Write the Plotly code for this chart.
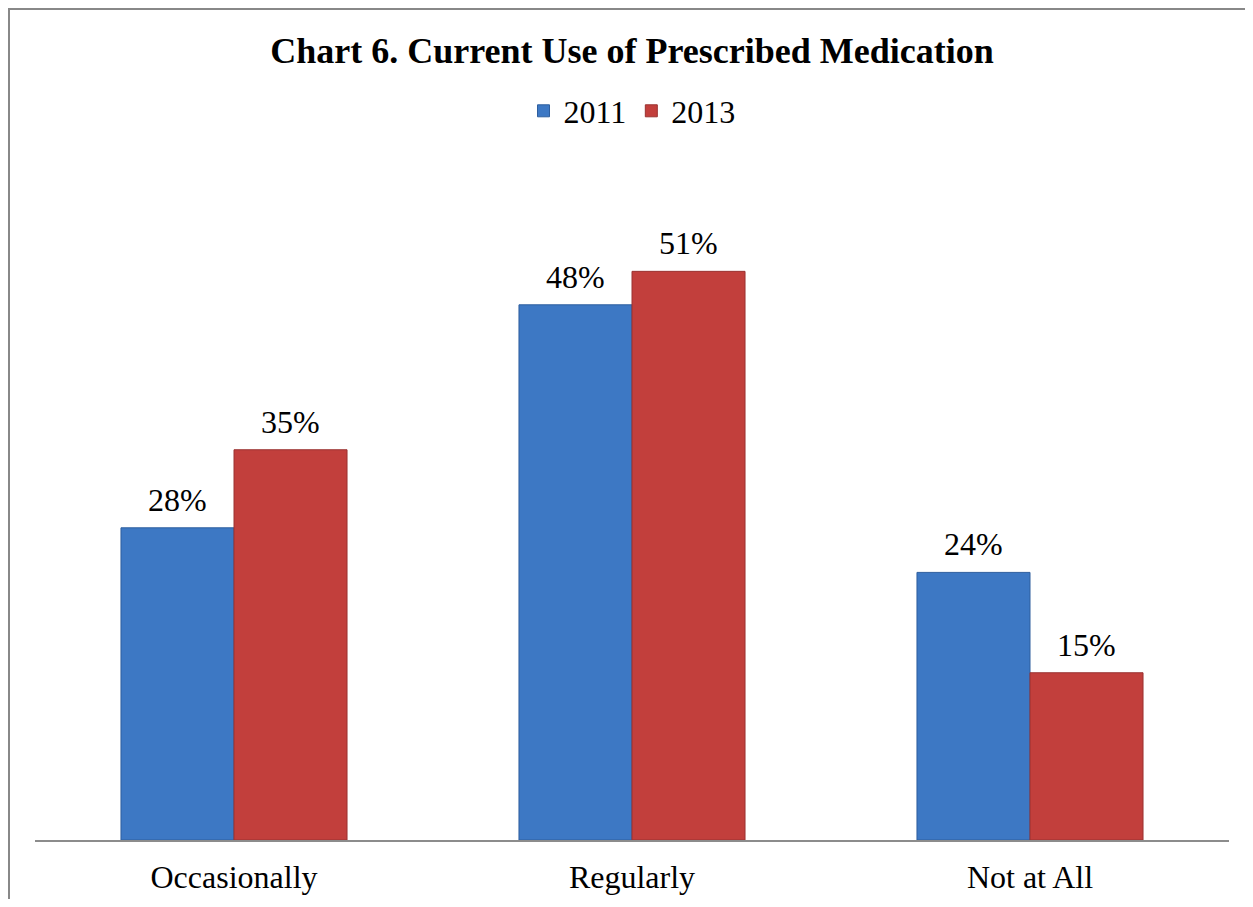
import plotly.graph_objects as go

categories = ["Occasionally", "Regularly", "Not at All"]
series_names = ["2011", "2013"]
values_2011 = [28, 48, 24]
values_2013 = [35, 51, 15]
colors = ["#3D78C4", "#C23F3C"]
line_colors = ["#2E5E9E", "#9A3230"]

# page has an 8px body margin, so the figure is drawn 8px in from top-left
OFF = 8
W, H = 1253 - 2 * OFF, 907 - 2 * OFF
ml, mr = 35 - OFF, W - (1229 - OFF)
axis_y = 840 - OFF
mb = H - axis_y
plot_h = 660
mt = axis_y - plot_h
plot_w = W - ml - mr
px_per_unit = 11.15
y_max = plot_h / px_per_unit
bargap = 0.432
n_series = len(series_names)
bar_px = plot_w / len(categories) * (1 - bargap) / n_series

FONT = "Liberation Serif"

fig = go.Figure()
all_vals = [values_2011, values_2013]
for i, (name, vals, c, lc) in enumerate(zip(series_names, all_vals, colors, line_colors)):
    fig.add_trace(go.Bar(
        x=categories, y=vals, name=name,
        marker=dict(color=c, line=dict(color=lc, width=1)),
    ))
    shift = (i - (n_series - 1) / 2) * bar_px
    for cat, v in zip(categories, vals):
        fig.add_annotation(x=cat, y=v, xref="x", yref="y", text=f"{v}%",
                           showarrow=False, xanchor="center", yanchor="bottom",
                           xshift=shift, yshift=8,
                           font=dict(family=FONT, size=32, color="#000000"))

def px_to_paper_x(px):
    return (px - OFF - ml) / plot_w

def px_to_paper_y(py):
    return (axis_y - (py - OFF)) / plot_h

# outer frame (grey border, partly cropped)
fig.add_shape(type="rect", xref="paper", yref="paper",
              x0=px_to_paper_x(8.5), x1=px_to_paper_x(1290),
              y0=px_to_paper_y(960), y1=px_to_paper_y(8.5),
              line=dict(color="#888888", width=3), fillcolor="rgba(0,0,0,0)", layer="below")

fig.update_layout(
    width=W, height=H,
    margin=dict(l=ml, r=mr, t=mt, b=mb, autoexpand=False),
    paper_bgcolor="white", plot_bgcolor="white",
    barmode="group", bargap=bargap, bargroupgap=0,
    title=dict(text="<b>Chart 6. Current Use of Prescribed Medication</b>",
               x=0.5, xanchor="center", xref="paper",
               y=1 - (50 - OFF) / H, yanchor="middle",
               font=dict(family=FONT, size=36, color="#000000")),
    legend=dict(orientation="h", x=0.5, xanchor="center",
                y=px_to_paper_y(111), yanchor="middle",
                font=dict(family=FONT, size=32, color="#000000"),
                itemwidth=30, tracegroupgap=0),
    showlegend=True,
    font=dict(family=FONT, color="#000000"),
    xaxis=dict(showline=True, linecolor="#8C8C8C", linewidth=1.5,
               showgrid=False, ticks="", zeroline=False, automargin=False,
               tickfont=dict(family=FONT, size=32, color="#000000"),
               ticklabelstandoff=8),
    yaxis=dict(visible=False, range=[0, y_max], showgrid=False, zeroline=False,
               automargin=False),
)

fig.write_html("out.html")
